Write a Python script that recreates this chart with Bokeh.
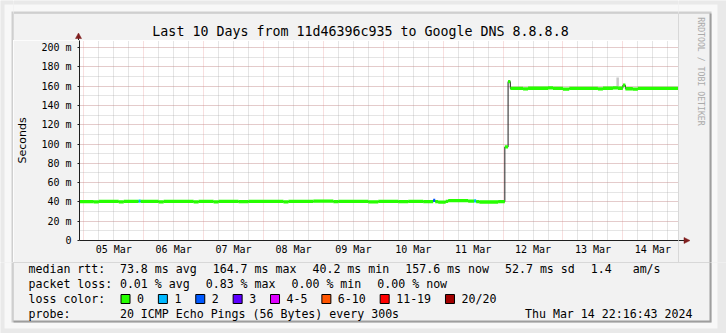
import pandas as pd
from math import pi
from bokeh.plotting import figure
from bokeh.layouts import row, column
from bokeh.models import (FixedTicker, SingleIntervalTicker, DatetimeTickFormatter,
                          Range1d, ColumnDataSource)
from bokeh.core.properties import value
from bokeh.embed import file_html
from bokeh.resources import INLINE

# ---------------- data ----------------
graph_start = "2024-03-04 22:16:43"
graph_end = "2024-03-14 22:16:43"
hour_origin = "2024-03-05 00:00:00"

# median rtt, piecewise constant: segment start (hours after 05 Mar 00:00), value (ms), lost pings of 20
seg_start_h = [-1.72, 4.0, 6.0, 14.0, 16.0, 22.0, 22.8, 30.0, 32.0, 44.0,
               46.0, 52.0, 54.0, 62.0, 66.0, 80.0, 82.0, 92.0, 100.0, 102.0,
               114.0, 118.0, 126.0, 130.0, 136.0, 140.0, 140.8, 142.0, 145.0, 146.0,
               154.0, 156.4, 157.2, 158.5, 166.0, 168.7, 170.0, 170.9, 176.0, 178.0,
               186.0, 188.0, 192.0, 194.5, 206.0, 208.0, 212.0, 214.0, 216.0, 217.0,
               220.0, 222.0]
seg_rtt_ms = [40.4, 40.0, 40.5, 40.1, 40.6, 40.9, 40.5, 40.1, 40.6, 40.0,
              40.5, 40.1, 40.6, 40.2, 40.6, 40.0, 40.5, 40.7, 40.2, 40.6,
              40.1, 40.5, 40.2, 40.6, 40.3, 41.6, 40.4, 39.8, 40.6, 41.4,
              40.8, 41.0, 40.4, 39.9, 40.3, 97.0, 164.7, 157.6, 157.2, 157.8,
              158.2, 157.6, 157.0, 157.6, 157.1, 157.8, 158.2, 157.8, 161.0, 157.3,
              157.0, 157.6]
seg_loss = [0, 0, 0, 0, 0, 1, 0, 0, 0, 0,
            0, 0, 0, 0, 0, 0, 0, 0, 0, 0,
            0, 0, 0, 0, 0, 2, 0, 0, 0, 0,
            0, 1, 0, 0, 0, 0, 0, 0, 0, 0,
            0, 0, 0, 0, 0, 0, 0, 0, 0, 0,
            0, 0]

# smoke (ping spread) that is visible
smoke_start_h = [213.4]
smoke_end_h = [214.4]
smoke_lo_ms = [158.0]
smoke_hi_ms = [169.0]

day_labels = ["05 Mar", "06 Mar", "07 Mar", "08 Mar", "09 Mar",
              "10 Mar", "11 Mar", "12 Mar", "13 Mar", "14 Mar"]
y_ticks = [0, 20, 40, 60, 80, 100, 120, 140, 160, 180, 200]
y_tick_labels = ["0", "20 m", "40 m", "60 m", "80 m", "100 m", "120 m",
                 "140 m", "160 m", "180 m", "200 m"]
y_max_ms = 207.3

loss_labels = ["0", "1", "2", "3", "4-5", "6-10", "11-19", "20/20"]
loss_colors = ["#26ff00", "#00b8ff", "#0059ff", "#5e00ff",
               "#dd00ff", "#ff5500", "#ff0000", "#a10000"]
loss_upper = [0, 1, 2, 3, 5, 10, 19, 20]

title_text = "Last 10 Days from 11d46396c935 to Google DNS 8.8.8.8"
rtt_row = ["73.8 ms avg", "164.7 ms max", "40.2 ms min", "157.6 ms now", "52.7 ms sd", "1.4"]
rtt_unit = "am/s"
loss_row = ["0.01 % avg", "0.83 % max", "0.00 % min", "0.00 % now"]
probe_text = "20 ICMP Echo Pings (56 Bytes) every 300s"
stamp_text = "Thu Mar 14 22:16:43 2024"
watermark = "RRDTOOL / TOBI OETIKER"

# ---------------- derived ----------------
t0 = pd.Timestamp(graph_start)
t1 = pd.Timestamp(graph_end)
origin = pd.Timestamp(hour_origin)
starts = [origin + pd.Timedelta(hours=h) for h in seg_start_h]
starts[0] = t0
ends = starts[1:] + [t1]


def bucket(n):
    for i, u in enumerate(loss_upper):
        if n <= u:
            return i
    return len(loss_upper) - 1


band_half = 1.7
band = ColumnDataSource(dict(
    left=starts, right=ends,
    bottom=[v - band_half for v in seg_rtt_ms],
    top=[v + band_half for v in seg_rtt_ms],
    color=[loss_colors[bucket(n)] for n in seg_loss],
))
step_x = starts + [t1]
step_y = seg_rtt_ms + [seg_rtt_ms[-1]]

smoke = ColumnDataSource(dict(
    left=[origin + pd.Timedelta(hours=h) for h in smoke_start_h],
    right=[origin + pd.Timedelta(hours=h) for h in smoke_end_h],
    bottom=smoke_lo_ms, top=smoke_hi_ms,
))


def ms(ts):
    return ts.value / 1e6


midnights = [ms(origin + pd.Timedelta(days=k)) for k in range(len(day_labels))]
noons = [m + 12 * 3600e3 for m in midnights]
quarter = [ms(t0.floor("D") + pd.Timedelta(hours=6 * k)) for k in range(0, 4 * 11 + 1)]
quarter = [q for q in quarter if q not in midnights]

# ---------------- page geometry (pixels) ----------------
W, H = 726, 333
FL, FR, FT, FB = 78, 678, 40, 240       # chart frame
TOP_H = 262                              # height of the chart band
PANEL = "#F2F2F2"
OUTER = "#E9E9E9"
MONO = "DejaVu Sans Mono"
page_rects = [  # x0, y0, x1, y1, colour
    (0, 0, W, H, OUTER),
    (4, 4, 717, 328, "#F8F8F8"),
    (11, 11, 711, 322, "#CFCFCF"),
    (13, 13, 711, 322, "#9E9E9E"),
    (13, 13, 709, 320, PANEL),
]


def px_fig(x0, y0, w, h):
    f = figure(width=w, height=h, x_range=Range1d(0, w), y_range=Range1d(h, 0),
               output_backend="svg", toolbar_location=None, min_border=0, title=None,
               x_axis_location=None, y_axis_location=None, tools="", frame_align=False)
    f.grid.visible = False
    f.outline_line_color = None
    f.background_fill_color = OUTER
    f.border_fill_color = OUTER
    f.quad(left=[r[0] - x0 for r in page_rects], right=[r[2] - x0 for r in page_rects],
           top=[r[1] - y0 for r in page_rects], bottom=[r[3] - y0 for r in page_rects],
           fill_color=[r[4] for r in page_rects], line_color=None)
    f._ox, f._oy = x0, y0
    return f


def txt(f, x, y, s, size="11.6px", align="left", color="#000000", font=MONO, angle=0.0):
    f.text(x=[x - f._ox], y=[y - f._oy], text=[s], text_font=value(font),
           text_font_size=value(size), text_align=align, text_baseline="middle",
           text_color=color, angle=angle)


def rect(f, x0, y0, x1, y1, fill, line=None):
    f.quad(left=[x0 - f._ox], right=[x1 - f._ox], top=[y0 - f._oy], bottom=[y1 - f._oy],
           fill_color=fill, line_color=line, line_width=1)


def tri(f, xs, ys, color):
    f.patch(x=[v - f._ox for v in xs], y=[v - f._oy for v in ys], fill_color=color,
            line_color=color, line_width=0.5)


# ---------------- chart ----------------
p = figure(width=FR - 13, height=TOP_H - FT, x_axis_type="datetime",
           x_range=Range1d(t0, t1), y_range=Range1d(0, y_max_ms),
           output_backend="svg", toolbar_location=None, title=None, tools="",
           min_border=0, min_border_left=FL - 13, min_border_right=0,
           min_border_top=0, min_border_bottom=TOP_H - FB, frame_align=False)
p.background_fill_color = "#FFFFFF"
p.border_fill_color = PANEL
p.outline_line_color = None

MAJ, MIN = "#E07070", "#A0A0A0"
p.xgrid.ticker = FixedTicker(ticks=midnights, minor_ticks=quarter)
p.yaxis.ticker = SingleIntervalTicker(interval=20, num_minor_ticks=2)
for g in (p.xgrid, p.ygrid):
    g.grid_line_color = MAJ
    g.grid_line_alpha = 0.45
    g.grid_line_dash = "1 1"
    g.minor_grid_line_color = MIN
    g.minor_grid_line_alpha = 0.55
    g.minor_grid_line_dash = "1 1"

p.xaxis.ticker = FixedTicker(ticks=noons)
fmt = "%d %b"
p.xaxis.formatter = DatetimeTickFormatter(days=fmt, hours=fmt, hourmin=fmt, minutes=fmt,
                                          months=fmt, years=fmt, minsec=fmt, seconds=fmt,
                                          milliseconds=fmt, microseconds=fmt)
p.yaxis.major_label_overrides = dict(zip(y_ticks, y_tick_labels))
for ax in (p.xaxis, p.yaxis):
    ax.axis_line_color = "#1F1F1F"
    ax.minor_tick_line_color = None
    ax.major_label_text_font = MONO
    ax.major_label_text_font_size = "10px"
    ax.major_label_text_color = "#000000"
p.xaxis.major_tick_line_color = None
p.xaxis.major_tick_out = 0
p.xaxis.major_label_standoff = 3
p.yaxis.major_tick_line_color = "#1F1F1F"
p.yaxis.major_tick_out = 2
p.yaxis.major_tick_in = 0
p.yaxis.major_label_standoff = 4
p.yaxis.axis_label = "Seconds"
p.yaxis.axis_label_text_font = "DejaVu Sans"
p.yaxis.axis_label_text_font_size = "11px"
p.yaxis.axis_label_text_font_style = "normal"
p.yaxis.axis_label_text_color = "#000000"
p.yaxis.axis_label_standoff = 9

p.quad(left="left", right="right", bottom="bottom", top="top", source=smoke,
       fill_color="#C8C8C8", line_color=None)
p.step(x=step_x, y=step_y, mode="after", line_color="#202020", line_width=1)
p.quad(left="left", right="right", bottom="bottom", top="top", source=band,
       fill_color="color", line_color=None)

# ---------------- decoration strips ----------------
left_strip = px_fig(0, 0, 13, TOP_H)

top_strip = px_fig(13, 0, FR - 13, FT)
txt(top_strip, 360, 31, title_text, size="13.3px", align="center")
rect(top_strip, FL - 0.5, 37, FL + 0.5, FT, "#1F1F1F")
tri(top_strip, [FL - 3, FL, FL + 3], [38, 32.5, 38], "#801F1F")

right_strip = px_fig(FR, 0, W - FR, TOP_H)
rect(right_strip, FR, FB - 0.5, 684, FB + 0.5, "#1F1F1F")
tri(right_strip, [683.5, 689.5, 683.5], [FB - 3, FB, FB + 3], "#801F1F")
txt(right_strip, 700, 71, watermark, size="8.2px", align="center",
    color="#AAAAAA", angle=-pi / 2)

bottom = px_fig(0, TOP_H, W, H - TOP_H)
cw, gap = 6.98, 16.0
row_y = [268, 283, 298, 313]
txt(bottom, 28, row_y[0], "median rtt:")
x = 119.4
for s in rtt_row:
    txt(bottom, x, row_y[0], s)
    last_x = x
    x += cw * len(s) + gap
txt(bottom, last_x + cw * (len(rtt_row[-1]) + 3), row_y[0], rtt_unit)
txt(bottom, 28, row_y[1], "packet loss:")
x = 119.4
for s in loss_row:
    txt(bottom, x, row_y[1], s)
    x += cw * len(s) + gap
txt(bottom, 28, row_y[2], "loss color:")
x = 120.0
for lab, col in zip(loss_labels, loss_colors):
    rect(bottom, x + 0.5, row_y[2] - 4, x + 9.5, row_y[2] + 5, col, "#000000")
    txt(bottom, x + 16.5, row_y[2], lab)
    x += 30.4 + cw * len(lab)
txt(bottom, 28, row_y[3], "probe:")
txt(bottom, 119.4, row_y[3], probe_text)
txt(bottom, 692, row_y[3], stamp_text, align="right")

layout = column(row(left_strip, column(top_strip, p, spacing=0), right_strip, spacing=0),
                bottom, spacing=0)

open("out.html", "w").write(file_html(layout, INLINE))
